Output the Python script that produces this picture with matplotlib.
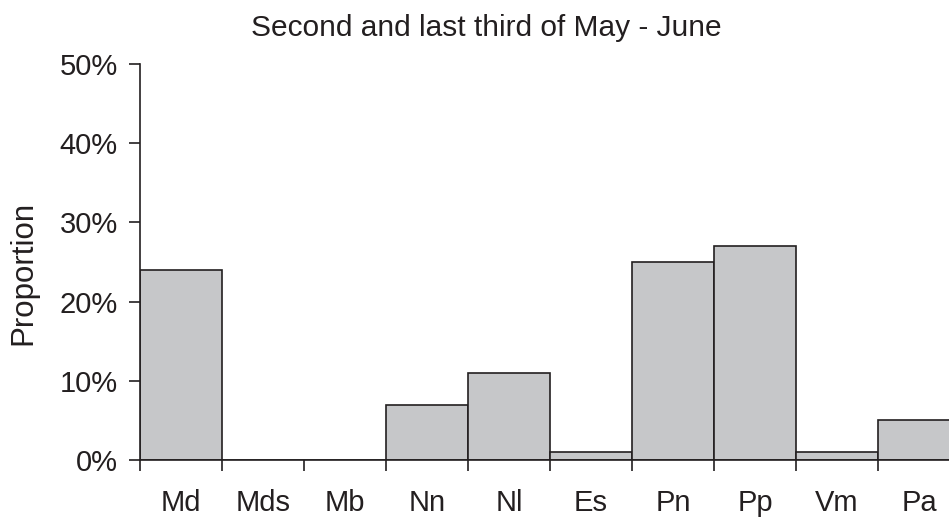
import matplotlib
matplotlib.use("Agg")
import matplotlib.pyplot as plt
import numpy as np
from matplotlib.ticker import FuncFormatter, FixedLocator

categories = ["Md", "Mds", "Mb", "Nn", "Nl", "Es", "Pn", "Pp", "Vm", "Pa"]
proportions = [0.24, 0.0, 0.0, 0.07, 0.11, 0.01, 0.25, 0.27, 0.01, 0.05]
title = "Second and last third of May - June"
ylabel = "Proportion"

plt.rcParams['font.family'] = ['Liberation Sans', 'DejaVu Sans']
W, H = 949, 518
fig = plt.figure(figsize=(W / 100, H / 100), dpi=100)
ax = fig.add_axes([140 / W, (H - 460) / H, 820 / W, 396 / H])

dark = "#231f20"
fs = 21
x = np.arange(len(categories)) + 0.5
ax.bar(x, proportions, width=1.0, color="#c6c7c9", edgecolor=dark, linewidth=1.2, zorder=2)

ax.set_xlim(0, len(categories))
ax.set_ylim(0, 0.5)
ax.set_yticks(np.arange(0, 0.51, 0.1))
ax.yaxis.set_major_formatter(FuncFormatter(lambda v, p: f"{v*100:.0f}%"))

ax.set_xticks(x)
ax.set_xticklabels(categories)
ax.xaxis.set_minor_locator(FixedLocator(np.arange(0, len(categories) + 1)))
ax.tick_params(axis='x', which='major', length=0, pad=21, labelsize=fs, colors=dark)
ax.tick_params(axis='x', which='minor', length=8, width=1.2, direction='out', color=dark)
ax.tick_params(axis='y', length=8, width=1.2, direction='out', pad=8, labelsize=fs, colors=dark)

for s in ['top', 'right']:
    ax.spines[s].set_visible(False)
for s in ['left', 'bottom']:
    ax.spines[s].set_color(dark)
    ax.spines[s].set_linewidth(1.2)

fig.text(23 / W, 1 - 273 / H, ylabel, rotation=90, ha='center', va='center',
         fontsize=22.5, color=dark)
fig.text(486 / W, 1 - 28 / H, title, ha='center', va='center', fontsize=21.5, color=dark)

fig.savefig("out.png", dpi=100)
